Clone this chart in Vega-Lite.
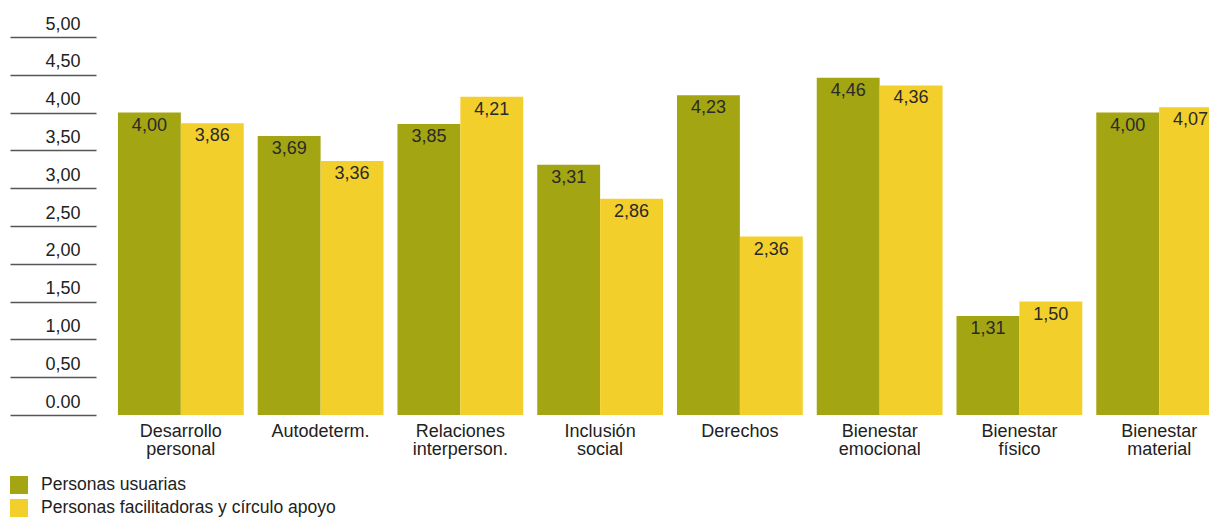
{
  "$schema": "https://vega.github.io/schema/vega-lite/v6.json",
  "autosize": "none",
  "padding": {"left": 96, "top": 37, "right": 0, "bottom": 102},
  "width": 1148,
  "height": 378,
  "config": {
    "view": {"stroke": null},
    "font": "Liberation Sans",
    "locale": {"number": {"decimal": ",", "thousands": ".", "grouping": [3], "currency": ["", " €"]}}
  },
  "data": {
    "values": [
      {"area": "Desarrollo|personal", "grupo": "Personas usuarias", "valor": 4.00},
      {"area": "Desarrollo|personal", "grupo": "Personas facilitadoras y círculo apoyo", "valor": 3.86},
      {"area": "Autodeterm.", "grupo": "Personas usuarias", "valor": 3.69},
      {"area": "Autodeterm.", "grupo": "Personas facilitadoras y círculo apoyo", "valor": 3.36},
      {"area": "Relaciones|interperson.", "grupo": "Personas usuarias", "valor": 3.85},
      {"area": "Relaciones|interperson.", "grupo": "Personas facilitadoras y círculo apoyo", "valor": 4.21},
      {"area": "Inclusión|social", "grupo": "Personas usuarias", "valor": 3.31},
      {"area": "Inclusión|social", "grupo": "Personas facilitadoras y círculo apoyo", "valor": 2.86},
      {"area": "Derechos", "grupo": "Personas usuarias", "valor": 4.23},
      {"area": "Derechos", "grupo": "Personas facilitadoras y círculo apoyo", "valor": 2.36},
      {"area": "Bienestar|emocional", "grupo": "Personas usuarias", "valor": 4.46},
      {"area": "Bienestar|emocional", "grupo": "Personas facilitadoras y círculo apoyo", "valor": 4.36},
      {"area": "Bienestar|físico", "grupo": "Personas usuarias", "valor": 1.31},
      {"area": "Bienestar|físico", "grupo": "Personas facilitadoras y círculo apoyo", "valor": 1.50},
      {"area": "Bienestar|material", "grupo": "Personas usuarias", "valor": 4.00},
      {"area": "Bienestar|material", "grupo": "Personas facilitadoras y círculo apoyo", "valor": 4.07}
    ]
  },
  "encoding": {
    "x": {
      "field": "area",
      "type": "nominal",
      "sort": null,
      "scale": {"paddingInner": 0.1, "paddingOuter": 0.157},
      "axis": {
        "title": null,
        "domain": false,
        "ticks": false,
        "labelAngle": 0,
        "labelExpr": "split(datum.value, '|')",
        "labelFontSize": 18,
        "labelLineHeight": 18.5,
        "labelColor": "#222222",
        "labelBaseline": "top",
        "labelPadding": 7
      }
    },
    "xOffset": {
      "field": "grupo",
      "type": "nominal",
      "sort": ["Personas usuarias", "Personas facilitadoras y círculo apoyo"]
    },
    "y": {
      "field": "valor",
      "type": "quantitative",
      "scale": {"domain": [0, 5]},
      "axis": {
        "title": null,
        "grid": false,
        "domain": false,
        "values": [0, 0.5, 1, 1.5, 2, 2.5, 3, 3.5, 4, 4.5, 5],
        "tickSize": 86,
        "tickWidth": 1.5,
        "tickColor": "#555555",
        "labelExpr": "datum.value === 0 ? '0.00' : format(datum.value, '.2f')",
        "labelFontSize": 18,
        "labelColor": "#222222",
        "labelAlign": "right",
        "labelBaseline": "alphabetic",
        "labelPadding": -70,
        "labelOffset": -8,
        "labelFlush": false,
        "labelOverlap": false
      }
    }
  },
  "layer": [
    {
      "mark": {"type": "bar"},
      "encoding": {
        "color": {
          "field": "grupo",
          "type": "nominal",
          "sort": ["Personas usuarias", "Personas facilitadoras y círculo apoyo"],
          "scale": {"range": ["#a3a512", "#f3cf2c"]},
          "legend": {
            "title": null,
            "orient": "none",
            "legendX": -86,
            "legendY": 439,
            "symbolType": "square",
            "symbolSize": 324,
            "symbolStrokeWidth": 0,
            "symbolOpacity": 1,
            "labelFontSize": 17.5,
            "labelColor": "#222222",
            "labelOffset": 13,
            "rowPadding": 5,
            "labelLimit": 600
          }
        }
      }
    },
    {
      "mark": {"type": "text", "baseline": "alphabetic", "dy": 18, "fontSize": 18, "color": "#2a2a2a"},
      "encoding": {
        "text": {"field": "valor", "type": "quantitative", "format": ".2f"}
      }
    }
  ]
}
